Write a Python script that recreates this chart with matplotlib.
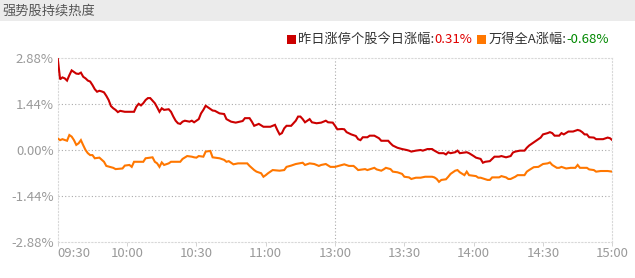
# -*- coding: utf-8 -*-
"""
强势股持续热度 分时走势图
"""

import matplotlib
matplotlib.use('Agg')
import matplotlib.pyplot as plt
from matplotlib.patches import Rectangle

plt.rcParams['font.family'] = ['Noto Sans CJK SC', 'DejaVu Sans']
plt.rcParams['axes.unicode_minus'] = False

# ========== 数据 ==========
# 自 09:30 起的交易分钟数 (午休已剔除, 120 = 13:00)
red_min = [0, 1, 2, 3, 4, 5, 6, 7, 8, 9, 10, 11, 12, 13, 14, 15, 16, 17, 18, 19,
           20, 21, 22, 23, 24, 25, 26, 27, 29, 33, 34, 35, 36, 37, 38, 39, 40, 41, 42, 43,
           44, 45, 46, 48, 49, 50, 51, 52, 53, 54, 55, 57, 58, 59, 61, 62, 63, 64, 65, 67,
           68, 70, 72, 73, 75, 77, 80, 81, 83, 84, 85, 87, 89, 92, 94, 95, 96, 97, 98, 99,
           101, 103, 104, 105, 106, 107, 109, 110, 112, 114, 116, 117, 119, 120, 121, 123, 124, 125, 127, 129,
           130, 131, 132, 134, 135, 137, 139, 140, 143, 144, 145, 147, 149, 151, 152, 153, 155, 157, 158, 160,
           162, 163, 165, 167, 168, 169, 170, 172, 173, 174, 177, 178, 180, 181, 182, 183, 184, 185, 187, 188,
           189, 191, 192, 194, 196, 197, 198, 200, 202, 203, 204, 206, 207, 209, 210, 212, 213, 214, 215, 217,
           218, 219, 221, 223, 225, 226, 227, 228, 229, 230, 232, 233, 236, 238, 239, 240]
red_val = [2.86, 2.22, 2.28, 2.25, 2.18, 2.35, 2.50, 2.45, 2.40, 2.39, 2.43, 2.30, 2.25, 2.18, 2.15, 2.04, 1.91, 1.83, 1.86, 1.84,
           1.81, 1.70, 1.57, 1.38, 1.31, 1.26, 1.19, 1.23, 1.20, 1.20, 1.36, 1.45, 1.40, 1.47, 1.57, 1.63, 1.63, 1.55, 1.47, 1.34,
           1.20, 1.31, 1.26, 1.28, 1.20, 1.05, 0.92, 0.84, 0.82, 0.89, 0.92, 0.89, 0.92, 0.87, 0.97, 1.15, 1.26, 1.39, 1.34, 1.24,
           1.23, 1.15, 1.13, 0.97, 0.89, 0.86, 0.91, 1.00, 1.00, 0.89, 0.76, 0.82, 0.73, 0.73, 0.79, 0.63, 0.49, 0.53, 0.68, 0.76,
           0.76, 0.92, 1.05, 1.05, 0.97, 0.87, 0.97, 0.87, 0.84, 0.86, 0.92, 0.87, 0.86, 0.76, 0.65, 0.66, 0.65, 0.56, 0.49, 0.44,
           0.34, 0.31, 0.40, 0.40, 0.45, 0.45, 0.37, 0.29, 0.29, 0.21, 0.14, 0.07, 0.03, 0.00, -0.02, -0.05, -0.02, 0.00, -0.02, 0.03,
           0.03, -0.02, -0.10, -0.10, -0.14, -0.07, -0.10, -0.07, -0.02, -0.10, -0.07, -0.10, -0.19, -0.24, -0.26, -0.28, -0.40, -0.37, -0.35, -0.28,
           -0.21, -0.21, -0.19, -0.23, -0.19, -0.08, -0.05, -0.02, -0.02, 0.07, 0.14, 0.24, 0.29, 0.39, 0.49, 0.53, 0.56, 0.53, 0.45, 0.45,
           0.53, 0.49, 0.58, 0.58, 0.63, 0.61, 0.56, 0.49, 0.49, 0.40, 0.39, 0.34, 0.34, 0.39, 0.37, 0.31]

wind_min = [0, 1, 2, 4, 5, 6, 7, 8, 9, 10, 11, 12, 13, 14, 15, 16, 18, 20, 21, 23,
            24, 25, 28, 29, 31, 32, 33, 37, 38, 41, 42, 43, 44, 45, 46, 48, 49, 53, 54, 56,
            58, 59, 60, 61, 63, 64, 66, 67, 70, 72, 73, 74, 76, 78, 82, 83, 85, 86, 88, 89,
            90, 91, 93, 96, 98, 99, 101, 103, 106, 107, 109, 111, 113, 114, 116, 118, 120, 123, 124, 126,
            128, 129, 130, 133, 134, 137, 138, 140, 141, 142, 144, 145, 147, 149, 150, 152, 153, 155, 157, 159,
            162, 163, 164, 165, 166, 168, 169, 170, 172, 173, 174, 176, 177, 178, 181, 182, 183, 186, 187, 188,
            191, 192, 194, 195, 196, 198, 199, 202, 203, 204, 206, 208, 210, 212, 213, 214, 216, 217, 218, 220,
            222, 224, 225, 226, 229, 230, 232, 233, 235, 238, 240]
wind_val = [0.36, 0.31, 0.34, 0.29, 0.47, 0.42, 0.31, 0.16, 0.21, 0.31, 0.15, 0.00, -0.10, -0.16, -0.16, -0.26, -0.24, -0.37, -0.50, -0.54,
            -0.56, -0.60, -0.58, -0.49, -0.47, -0.53, -0.37, -0.37, -0.26, -0.23, -0.37, -0.42, -0.53, -0.39, -0.47, -0.42, -0.37, -0.37, -0.28, -0.19,
            -0.21, -0.23, -0.24, -0.19, -0.21, -0.05, -0.03, -0.23, -0.26, -0.31, -0.37, -0.35, -0.45, -0.42, -0.42, -0.50, -0.63, -0.68, -0.73, -0.84,
            -0.79, -0.73, -0.63, -0.65, -0.63, -0.53, -0.49, -0.44, -0.40, -0.47, -0.42, -0.44, -0.50, -0.47, -0.44, -0.53, -0.53, -0.47, -0.45, -0.50,
            -0.50, -0.56, -0.63, -0.60, -0.63, -0.56, -0.61, -0.65, -0.61, -0.56, -0.60, -0.68, -0.70, -0.75, -0.84, -0.86, -0.91, -0.87, -0.87, -0.84,
            -0.84, -0.86, -0.91, -1.00, -0.94, -0.92, -0.84, -0.75, -0.65, -0.63, -0.70, -0.79, -0.68, -0.79, -0.82, -0.87, -0.87, -0.94, -0.94, -0.86,
            -0.86, -0.82, -0.86, -0.91, -0.91, -0.84, -0.79, -0.79, -0.68, -0.63, -0.54, -0.53, -0.44, -0.42, -0.39, -0.47, -0.56, -0.56, -0.53, -0.58,
            -0.56, -0.56, -0.47, -0.56, -0.56, -0.61, -0.63, -0.68, -0.66, -0.66, -0.68]

x_ticks = [0, 30, 60, 90, 120, 150, 180, 210, 240]
x_labels = ['09:30', '10:00', '10:30', '11:00', '13:00', '13:30', '14:00', '14:30', '15:00']
y_ticks = [-2.88, -1.44, 0.0, 1.44, 2.88]
y_labels = ['-2.88%', '-1.44%', '0.00%', '1.44%', '2.88%']

title = '强势股持续热度'
red_name = '昨日涨停个股今日涨幅:'
wind_name = '万得全A涨幅:'
red_last = '0.31%'
wind_last = '-0.68%'

RED = '#cc0000'
ORANGE = '#ff7700'
GRAY_TXT = '#9a9a9a'
W, H = 635, 278

fig = plt.figure(figsize=(W / 100, H / 100), dpi=100, facecolor='white')
ax = fig.add_axes([57.8 / W, 1 - 241.7 / H, (612.3 - 57.8) / W, (241.7 - 58.3) / H])

# ========== 标题栏 ==========
fig.patches.append(Rectangle((0, 1 - 20.5 / H), 1, 20.5 / H, transform=fig.transFigure,
                             facecolor='#ebebeb', edgecolor='none', zorder=0))
fig.text(2 / W, 1 - 11 / H, title, ha='left', va='center', fontsize=9.5, color='#555555')

# ========== 图例 ==========
def legend_item(x_sq, x_txt, name, last, color, last_color):
    fig.patches.append(Rectangle((x_sq / W, 1 - 44 / H), 9.3 / W, 9 / H, transform=fig.transFigure,
                                 facecolor=color, edgecolor='none'))
    t = fig.text(x_txt / W, 1 - 39.5 / H, name, ha='left', va='center', fontsize=9.5, color='#333333')
    ax.annotate(last, xy=(1, 0), xycoords=t, ha='left', va='bottom', fontsize=9.5,
                color=last_color, annotation_clip=False)

legend_item(286.7, 298.3, red_name, red_last, RED, '#e00000')
legend_item(477.0, 488.3, wind_name, wind_last, ORANGE, '#008800')

# ========== 曲线 ==========
ax.plot(red_min, red_val, color=RED, lw=1.5, zorder=5, solid_joinstyle='miter')
ax.plot(wind_min, wind_val, color=ORANGE, lw=1.5, zorder=4, solid_joinstyle='miter')

# ========== 网格 ==========
dots = (0, (1, 2))
for y in [-1.44, 0.0, 1.44]:
    ax.axhline(y, color='#aaaaaa', lw=0.8, ls=dots, zorder=1)
ax.axvline(120, color='#aaaaaa', lw=0.8, ls=dots, zorder=1)
for side in ['left', 'right', 'top', 'bottom']:
    ax.spines[side].set_color('#d8d8d8')
    ax.spines[side].set_linestyle(dots)
    ax.spines[side].set_linewidth(0.8)

# ========== 坐标 ==========
ax.set_xlim(0, 240)
ax.set_ylim(-2.88, 2.88)
ax.set_xticks(x_ticks)
ax.set_xticklabels(x_labels)
ax.set_yticks(y_ticks)
ax.set_yticklabels(y_labels)
ax.tick_params(axis='x', length=3, width=0.6, color='#cccccc', labelcolor=GRAY_TXT,
               labelsize=9.5, pad=1)
ax.tick_params(axis='y', length=0, labelcolor=GRAY_TXT, labelsize=9.5, pad=3)
ax.get_xticklabels()[0].set_ha('left')

fig.savefig('out.png', dpi=100, facecolor='white')
plt.close(fig)
